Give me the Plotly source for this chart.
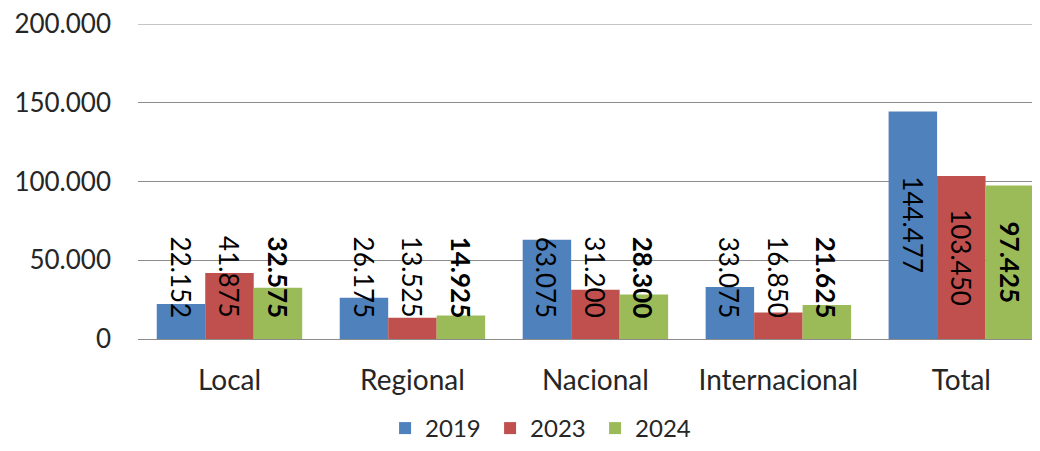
import plotly.graph_objects as go

categories = ["Local", "Regional", "Nacional", "Internacional", "Total"]
years = ["2019", "2023", "2024"]
values_2019 = [22152, 26175, 63075, 33075, 144477]
values_2023 = [41875, 13525, 31200, 16850, 103450]
values_2024 = [32575, 14925, 28300, 21625, 97425]
colors = ["#4F81BD", "#C0504D", "#9BBB59"]

# page body adds an 8px offset, so the figure is 8px smaller than the window
W, H = 1032, 443
margin = dict(l=130, r=0, t=16, b=112)
x_range = [-0.5, 4.43]  # the original is cropped on the right
bargap = 0.205
font = "Lato, Open Sans, sans-serif"

series = [values_2019, values_2023, values_2024]

fig = go.Figure()
for year, vals, col in zip(years, series, colors):
    fig.add_trace(go.Bar(name=year, x=categories, y=vals, marker_color=col,
                         marker_line_width=0))

# rotated data labels, centred in the bar but kept from sinking too low
plot_w = W - margin["l"] - margin["r"]
cat_px = plot_w / (x_range[1] - x_range[0])
bar_px = cat_px * (1 - bargap) / len(years)
for i, vals in enumerate(series):
    for cat, v in zip(categories, vals):
        txt = f"{v:,}".replace(",", ".")
        if i == 2:
            txt = f"<b>{txt}</b>"
        fig.add_annotation(x=cat, y=max(v / 2, 39000), text=txt, textangle=90,
                           showarrow=False, xshift=(i - 1) * bar_px,
                           xanchor="center", yanchor="middle",
                           font=dict(size=26, color="#000000", family=font))

# top gridline (plotly skips the one on the range edge)
fig.add_shape(type="line", xref="paper", x0=0, x1=1, yref="y", y0=200000, y1=200000,
              line=dict(color="#8c8c8c", width=1), layer="below")

fig.update_layout(
    width=W, height=H, margin=margin,
    barmode="group", bargap=bargap, bargroupgap=0,
    separators=",.",
    plot_bgcolor="white", paper_bgcolor="white",
    font=dict(family=font, size=23, color="#262626"),
    legend=dict(orientation="h", xref="container", x=0.518, xanchor="center",
                yref="container", y=0.0, yanchor="bottom",
                font=dict(size=24), itemwidth=30,
                entrywidth=60, entrywidthmode="pixels"),
    xaxis=dict(range=x_range, showline=False, ticks="", automargin=False,
               ticklabelstandoff=22, tickfont=dict(size=28)),
    yaxis=dict(range=[0, 200000], dtick=50000, tickformat=",d",
               showgrid=True, gridcolor="#8c8c8c", gridwidth=1,
               zeroline=True, zerolinecolor="#8c8c8c", zerolinewidth=1,
               ticks="", automargin=False, ticklabelstandoff=26,
               ticklabeloverflow="allow", tickfont=dict(size=26)),
)

fig.write_html("out.html")
